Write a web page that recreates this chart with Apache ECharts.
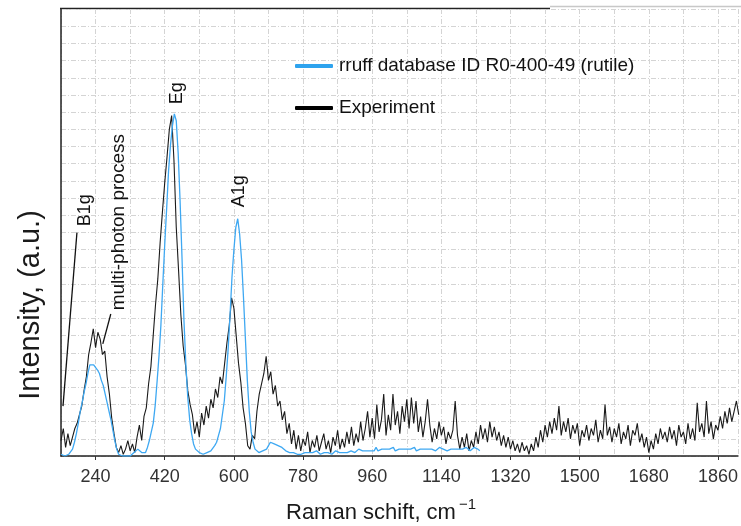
<!DOCTYPE html>
<html>
<head>
<meta charset="utf-8">
<script src="https://cdn.jsdelivr.net/npm/echarts@6/dist/echarts.min.js"></script>
<style>
  html, body { margin: 0; padding: 0; background: #fff; }
  #chart { width: 741px; height: 526px; }
</style>
</head>
<body>
<div id="chart"></div>
<script>
// Raman shift range shown (cm-1) and labelled ticks
const X_MIN = 150, X_MAX = 1912;
const xTickLabels = [240, 420, 600, 780, 960, 1140, 1320, 1500, 1680, 1860];

// Measured spectrum, sampled every 6 cm-1 from 150
const EXP_START = 150, EXP_STEP = 6;
const experiment = [
  0.9, 1.6, 0.5, 1.3, 0.6, 1.1, 1.6, 1.9, 2.4, 2.9,
  3.8, 4.6, 5.9, 6.6, 7.4, 6.3, 7.2, 6.8, 5.9, 6.1,
  4.6, 3.6, 2.2, 1.3, 0.5, 0.2, 0.6, 0.1, 0.4, 0.9,
  0.3, 0.7, 0.2, 1.1, 1.8, 0.9, 2.3, 2.8, 4.2, 5.2,
  7.0, 8.8, 10.3, 12.4, 14.2, 15.9, 17.4, 19.0, 19.8, 17.2,
  13.3, 10.8, 8.2, 6.4, 5.3, 3.8, 3.0, 2.4, 1.3, 2.0,
  1.1, 2.5, 1.8, 2.9, 2.2, 3.3, 2.8, 3.9, 3.4, 4.6,
  4.2, 5.4, 6.6, 7.6, 9.2, 8.6, 7.0, 5.4, 4.3, 2.8,
  1.9, 0.6, 0.4, 1.2, 1.0, 2.6, 3.6, 4.2, 4.8, 5.8,
  4.4, 4.9, 3.6, 4.1, 2.9, 3.2, 2.1, 2.6, 1.3, 1.9,
  0.7, 1.5, 0.4, 1.2, 0.3, 1.0, 0.6, 1.4, 0.2, 0.9,
  0.5, 1.2, 0.3, 0.8, 1.3, 0.4, 0.9, 0.2, 1.1, 0.6,
  1.5, 0.4, 1.0, 0.5, 1.4, 0.7, 1.7, 0.6, 1.3, 0.8,
  2.0, 0.9, 1.6, 2.6, 1.1, 2.2, 1.0, 3.0, 1.4, 2.1,
  3.6, 1.2, 2.4, 1.5, 3.6, 1.8, 2.6, 1.3, 2.9, 2.0,
  3.3, 1.6, 3.4, 1.9, 3.2, 1.4, 2.3, 1.1, 2.0, 3.3,
  1.8, 0.8, 1.6, 1.0, 2.0, 1.2, 1.7, 0.7, 1.4, 1.0,
  1.5, 3.2, 1.2, 0.4, 1.1, 0.5, 1.3, 0.3, 0.9, 0.5,
  1.4, 0.7, 1.8, 1.0, 1.6, 0.8, 2.0, 1.1, 1.7, 0.9,
  1.4, 0.6, 1.2, 0.5, 1.1, 0.4, 0.9, 0.3, 0.7, 0.2,
  0.8, 0.3, 0.6, 0.1, 0.7, 0.3, 1.1, 0.5, 1.5, 0.8,
  1.8, 1.1, 2.0, 1.3, 2.2, 1.5, 2.9, 1.2, 2.0, 1.4,
  2.2, 1.0, 1.8, 1.3, 1.9, 0.6, 1.5, 1.1, 1.8, 0.9,
  1.6, 1.2, 2.1, 0.8, 1.5, 1.0, 3.0, 1.2, 1.7, 0.8,
  1.6, 1.1, 1.9, 0.7, 1.4, 1.0, 1.8, 0.6, 1.5, 1.2,
  1.9, 0.8, 1.3, 0.5, 1.1, 0.2, 0.9, 0.4, 1.3, 0.7,
  1.6, 1.0, 1.4, 0.8, 1.7, 1.0, 1.5, 0.6, 1.8, 1.1,
  1.4, 0.7, 1.9, 1.0, 1.6, 0.9, 3.1, 1.4, 1.9, 1.1,
  3.2, 1.3, 2.0, 1.0, 1.8, 1.5, 2.3, 1.6, 2.6, 1.9,
  2.8, 2.0, 2.6, 3.2, 2.4
];

// RRUFF reference spectrum (rutile), sampled every 5 cm-1 from 150
const REF_START = 150, REF_STEP = 5;
const rruff = [
  0.1, 0.1, 0.0, 0.1, 0.1, 0.2, 0.4, 0.8, 1.3, 1.9,
  2.6, 3.1, 3.7, 4.2, 4.8, 5.3, 5.4, 5.3, 5.2, 5.0,
  4.8, 4.4, 4.1, 3.6, 3.1, 2.6, 2.1, 1.5, 0.9, 0.4,
  0.1, 0.1, 0.0, 0.1, 0.0, 0.1, 0.0, 0.1, 0.2, 0.3,
  0.4, 0.3, 0.2, 0.1, 0.2, 0.5, 0.9, 1.4, 1.9, 2.9,
  4.3, 5.8, 7.6, 10.0, 12.3, 14.4, 16.6, 18.1, 19.2, 19.9,
  19.5, 17.6, 14.8, 11.5, 7.9, 5.3, 3.4, 2.1, 1.3, 0.7,
  0.4, 0.3, 0.2, 0.2, 0.1, 0.2, 0.2, 0.2, 0.3, 0.4,
  0.6, 0.8, 1.2, 1.6, 2.4, 3.2, 4.6, 6.2, 8.2, 10.4,
  12.0, 13.3, 13.8, 12.9, 11.4, 9.2, 6.8, 4.4, 2.6, 1.4,
  0.8, 0.4, 0.3, 0.2, 0.2, 0.3, 0.3, 0.4, 0.6, 0.8,
  0.8, 0.7, 0.7, 0.6, 0.5, 0.5, 0.4, 0.3, 0.3, 0.2,
  0.2, 0.2, 0.2, 0.1, 0.2, 0.1, 0.2, 0.2, 0.1, 0.2,
  0.1, 0.2, 0.2, 0.3, 0.2, 0.1, 0.2, 0.2, 0.3, 0.2,
  0.2, 0.1, 0.2, 0.3, 0.2, 0.2, 0.3, 0.2, 0.3, 0.2,
  0.2, 0.3, 0.3, 0.2, 0.3, 0.4, 0.3, 0.3, 0.4, 0.3,
  0.4, 0.3, 0.4, 0.3, 0.5, 0.3, 0.4, 0.4, 0.3, 0.4,
  0.3, 0.4, 0.4, 0.5, 0.3, 0.4, 0.4, 0.3, 0.4, 0.5,
  0.4, 0.3, 0.4, 0.4, 0.5, 0.3, 0.4, 0.4, 0.5, 0.4,
  0.3, 0.4, 0.5, 0.4, 0.4, 0.3, 0.4, 0.5, 0.4, 0.4,
  0.5, 0.3, 0.4, 0.4, 0.5, 0.4, 0.3, 0.4, 0.5, 0.4,
  0.4, 0.5, 0.4, 0.3, 0.4, 0.5, 0.4, 0.4, 0.3
];

// Band assignments (label text, anchor in data units, font size)
const bandNames = ['Eg', 'A1g', 'B1g', 'multi-photon process'];
const bandX = [453, 613, 212, 301];
const bandY = [21.1, 15.4, 14.3, 13.6];
const bandFont = [18, 18, 18, 19];

// Leader lines from the labels down to the spectrum
const leaderFrom = [[191.5, 13.0], [279.6, 8.26]];
const leaderTo = [[155.2, 2.9], [258.8, 6.52]];

const FONT = "'Liberation Sans', Arial, sans-serif";
const expData = experiment.map((v, i) => [EXP_START + i * EXP_STEP, v]);
const refData = rruff.map((v, i) => [REF_START + i * REF_STEP, v]);

const gridLine = { show: true, lineStyle: { color: '#d4d4d4', width: 1, type: [5, 2, 1, 2] } };

const chart = echarts.init(document.getElementById('chart'), null, { renderer: 'canvas' });
chart.setOption({
  animation: false,
  backgroundColor: '#fff',
  grid: { left: 61, right: 0, top: 9, bottom: 70 },
  legend: {
    data: ['rruff database ID R0-400-49 (rutile)', 'Experiment'],
    orient: 'vertical',
    left: 295, top: 56, padding: 0,
    itemWidth: 38, itemHeight: 4, itemGap: 22,
    icon: 'roundRect',
    selectedMode: false,
    textStyle: { fontSize: 19, fontFamily: FONT, color: '#111', lineHeight: 20, padding: [0, 0, 0, 1] }
  },
  xAxis: [
    {
      type: 'value', min: X_MIN, max: X_MAX,
      axisLine: { show: true, lineStyle: { color: '#222', width: 1.5 } },
      axisTick: { show: true, length: 4, customValues: xTickLabels, lineStyle: { color: '#333' } },
      axisLabel: {
        customValues: xTickLabels, formatter: (v) => String(v),
        fontSize: 18, fontFamily: FONT, color: '#333', margin: 12
      },
      splitLine: { show: false }
    },
    {
      // grid every 90 cm-1, counted from the left edge
      type: 'value', min: 0, max: X_MAX - X_MIN, interval: 90,
      position: 'bottom',
      axisLine: { show: false }, axisTick: { show: false }, axisLabel: { show: false },
      splitLine: gridLine
    }
  ],
  yAxis: {
    type: 'value', min: 0, max: 26, interval: 1,
    axisLine: { show: true, lineStyle: { color: '#222', width: 1.5 } },
    axisTick: { show: false }, axisLabel: { show: false },
    splitLine: gridLine
  },
  series: [
    {
      name: 'Experiment', type: 'line', data: expData,
      symbol: 'none', z: 2,
      itemStyle: { color: '#000' },
      lineStyle: { color: '#1a1a1a', width: 1.1 },
      markPoint: {
        silent: true, symbol: 'circle', symbolSize: 1,
        itemStyle: { color: 'rgba(0,0,0,0)' },
        label: { show: true, position: 'inside', rotate: 90, fontSize: 18, fontFamily: FONT, color: '#111' },
        data: bandNames.map((n, i) => ({
          coord: [bandX[i], bandY[i]], value: n,
          label: { formatter: n, fontSize: bandFont[i] }
        }))
      },
      markLine: {
        silent: true, symbol: ['none', 'none'],
        lineStyle: { color: '#111', width: 1.3, type: 'solid' },
        label: { show: false },
        data: leaderFrom.map((p, i) => [{ coord: p }, { coord: leaderTo[i] }])
      }
    },
    {
      name: 'rruff database ID R0-400-49 (rutile)', type: 'line', data: refData,
      symbol: 'none', z: 3,
      itemStyle: { color: '#2ea3ee' },
      lineStyle: { color: '#3ea8f2', width: 1.3 }
    }
  ],
  graphic: [
    { type: 'line', shape: { x1: 60, y1: 8.5, x2: 550, y2: 8.5 }, style: { stroke: '#222', lineWidth: 1.5 }, silent: true },
    { type: 'line', shape: { x1: 550, y1: 6.5, x2: 741, y2: 6.5 }, style: { stroke: '#c8c8c8', lineWidth: 1.5 }, silent: true },
    {
      type: 'text', x: 31, y: 305, rotation: Math.PI / 2, silent: true,
      style: { text: 'Intensity, (a.u.)', font: "29px 'Liberation Sans', Arial, sans-serif", fill: '#1a1a1a', textAlign: 'center', textVerticalAlign: 'middle' }
    },
    {
      type: 'text', x: 286, y: 513, silent: true,
      style: { text: 'Raman schift, cm', font: "22px 'Liberation Sans', Arial, sans-serif", fill: '#1a1a1a', textAlign: 'left', textVerticalAlign: 'middle' }
    },
    {
      type: 'text', x: 459, y: 505, silent: true,
      style: { text: '\u22121', font: "15px 'Liberation Sans', Arial, sans-serif", fill: '#1a1a1a', textAlign: 'left', textVerticalAlign: 'middle' }
    }
  ]
});
</script>
</body>
</html>
